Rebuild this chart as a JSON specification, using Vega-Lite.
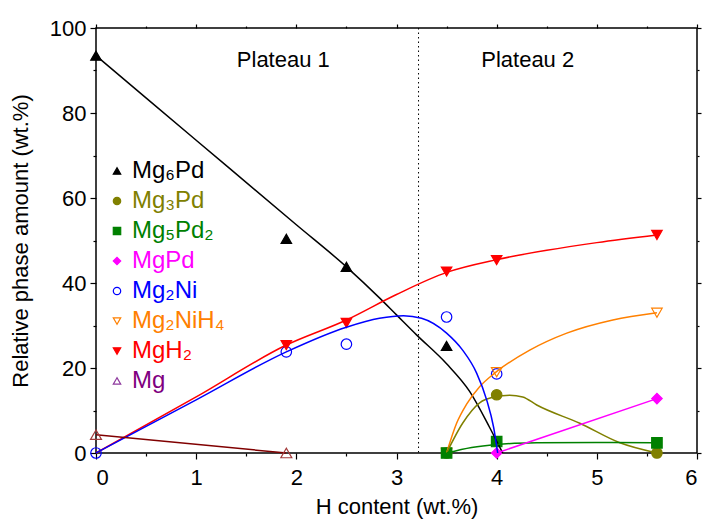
{
  "$schema": "https://vega.github.io/schema/vega-lite/v6.json",
  "width": 601,
  "height": 425,
  "autosize": {"type": "none"},
  "padding": {"left": 96, "top": 28, "right": 7, "bottom": 66},
  "background": "white",
  "config": {
    "view": {"stroke": "black", "strokeWidth": 1.5},
    "font": "Liberation Sans",
    "axis": {"labelFont": "Liberation Sans", "labelFontSize": 22, "titleFont": "Liberation Sans", "titleFontSize": 22, "titleFontWeight": "normal", "domain": false, "grid": false, "tickColor": "black", "labelColor": "black", "titleColor": "black", "tickWidth": 1.2},
    "legend": {"labelFont": "Liberation Sans", "labelFontSize": 24, "rowPadding": 6, "labelOffset": 3, "symbolSize": 55, "symbolStrokeWidth": 1.2, "padding": 0}
  },
  "datasets": {
    "pts": [
      {"s": "Mg₆Pd", "x": 0, "y": 93.5}, {"s": "Mg₆Pd", "x": 1.9, "y": 50.4}, {"s": "Mg₆Pd", "x": 2.5, "y": 43.8}, {"s": "Mg₆Pd", "x": 3.5, "y": 25.2},
      {"s": "Mg₂Ni", "x": 0, "y": 0}, {"s": "Mg₂Ni", "x": 1.9, "y": 23.8}, {"s": "Mg₂Ni", "x": 2.5, "y": 25.6}, {"s": "Mg₂Ni", "x": 3.5, "y": 32}, {"s": "Mg₂Ni", "x": 4, "y": 18.6},
      {"s": "MgH₂", "x": 1.9, "y": 25.4}, {"s": "MgH₂", "x": 2.5, "y": 30.6}, {"s": "MgH₂", "x": 3.5, "y": 42.7}, {"s": "MgH₂", "x": 4, "y": 45.4}, {"s": "MgH₂", "x": 5.6, "y": 51.3},
      {"s": "Mg₂NiH₄", "x": 3.5, "y": 0}, {"s": "Mg₂NiH₄", "x": 4, "y": 19}, {"s": "Mg₂NiH₄", "x": 5.6, "y": 33},
      {"s": "Mg₃Pd", "x": 3.5, "y": 0}, {"s": "Mg₃Pd", "x": 4, "y": 13.7}, {"s": "Mg₃Pd", "x": 5.6, "y": 0},
      {"s": "MgPd", "x": 4, "y": 0}, {"s": "MgPd", "x": 5.6, "y": 12.8},
      {"s": "Mg₅Pd₂", "x": 3.5, "y": 0}, {"s": "Mg₅Pd₂", "x": 4, "y": 2.7}, {"s": "Mg₅Pd₂", "x": 5.6, "y": 2.4}
    ],
    "curves": [
      {"s": "Mg₆Pd", "x": 0, "y": 93.5}, {"s": "Mg₆Pd", "x": 1, "y": 73.6}, {"s": "Mg₆Pd", "x": 2, "y": 53.7}, {"s": "Mg₆Pd", "x": 2.5, "y": 43.8}, {"s": "Mg₆Pd", "x": 2.83, "y": 36.5}, {"s": "Mg₆Pd", "x": 3.0, "y": 32.5}, {"s": "Mg₆Pd", "x": 3.2, "y": 27.8}, {"s": "Mg₆Pd", "x": 3.5, "y": 21}, {"s": "Mg₆Pd", "x": 3.73, "y": 14.5}, {"s": "Mg₆Pd", "x": 3.93, "y": 6}, {"s": "Mg₆Pd", "x": 4.06, "y": 0},
      {"s": "MgH₂", "x": 0, "y": 0}, {"s": "MgH₂", "x": 1, "y": 13.2}, {"s": "MgH₂", "x": 1.9, "y": 25.4}, {"s": "MgH₂", "x": 2.5, "y": 31.3}, {"s": "MgH₂", "x": 3, "y": 37.3}, {"s": "MgH₂", "x": 3.5, "y": 42.5}, {"s": "MgH₂", "x": 4, "y": 45.5}, {"s": "MgH₂", "x": 4.5, "y": 47.7}, {"s": "MgH₂", "x": 5, "y": 49.5}, {"s": "MgH₂", "x": 5.6, "y": 51.3},
      {"s": "Mg₂NiH₄", "x": 3.5, "y": 0}, {"s": "Mg₂NiH₄", "x": 3.6, "y": 7}, {"s": "Mg₂NiH₄", "x": 3.7, "y": 11.5}, {"s": "Mg₂NiH₄", "x": 3.83, "y": 15.6}, {"s": "Mg₂NiH₄", "x": 3.98, "y": 18.8}, {"s": "Mg₂NiH₄", "x": 4.33, "y": 24.2}, {"s": "Mg₂NiH₄", "x": 4.7, "y": 28.2}, {"s": "Mg₂NiH₄", "x": 5.16, "y": 31.3}, {"s": "Mg₂NiH₄", "x": 5.6, "y": 33},
      {"s": "Mg₃Pd", "x": 3.5, "y": 0}, {"s": "Mg₃Pd", "x": 3.66, "y": 7}, {"s": "Mg₃Pd", "x": 3.83, "y": 11.8}, {"s": "Mg₃Pd", "x": 3.98, "y": 13.2}, {"s": "Mg₃Pd", "x": 4.13, "y": 13.6}, {"s": "Mg₃Pd", "x": 4.26, "y": 13.2}, {"s": "Mg₃Pd", "x": 4.4, "y": 11.3}, {"s": "Mg₃Pd", "x": 4.83, "y": 7}, {"s": "Mg₃Pd", "x": 5.23, "y": 2.4}, {"s": "Mg₃Pd", "x": 5.6, "y": 0},
      {"s": "Mg₅Pd₂", "x": 3.5, "y": 0}, {"s": "Mg₅Pd₂", "x": 3.75, "y": 1.3}, {"s": "Mg₅Pd₂", "x": 4, "y": 2}, {"s": "Mg₅Pd₂", "x": 4.4, "y": 2.4}, {"s": "Mg₅Pd₂", "x": 5, "y": 2.5}, {"s": "Mg₅Pd₂", "x": 5.6, "y": 2.4},
      {"s": "MgPd", "x": 4, "y": 0}, {"s": "MgPd", "x": 5.6, "y": 12.8},
      {"s": "Mg₂Ni", "x": 0, "y": 0}, {"s": "Mg₂Ni", "x": 1, "y": 12.5}, {"s": "Mg₂Ni", "x": 1.9, "y": 23.8}, {"s": "Mg₂Ni", "x": 2.5, "y": 29.6}, {"s": "Mg₂Ni", "x": 2.83, "y": 31.7}, {"s": "Mg₂Ni", "x": 3.07, "y": 32.3}, {"s": "Mg₂Ni", "x": 3.25, "y": 31.7}, {"s": "Mg₂Ni", "x": 3.5, "y": 28.2}, {"s": "Mg₂Ni", "x": 3.66, "y": 24.2}, {"s": "Mg₂Ni", "x": 3.8, "y": 18.8}, {"s": "Mg₂Ni", "x": 3.9, "y": 12.5}, {"s": "Mg₂Ni", "x": 3.97, "y": 6}, {"s": "Mg₂Ni", "x": 4.01, "y": 0}
    ],
    "mg": [{"s": "Mg", "x": 0, "y": 4.3}, {"s": "Mg", "x": 1.9, "y": 0}],
    "labels": [{"t": "Plateau 1", "x": 1.87, "y": 92.5}, {"t": "Plateau 2", "x": 4.31, "y": 92.5}],
    "divider": [{"x": 3.22}]
  },
  "resolve": {"axis": {"x": "independent", "y": "independent"}},
  "layer": [
    {
      "data": {"name": "pts"},
      "mark": {"type": "point", "strokeWidth": 1.2, "size": 110, "opacity": 1},
      "encoding": {
        "x": {"field": "x", "type": "quantitative", "scale": {"domain": [0, 6], "nice": false, "zero": false}, "axis": {"orient": "top", "values": [0, 1, 2, 3, 4, 5, 6], "tickSize": 4, "labels": false, "title": null}},
        "y": {"field": "y", "type": "quantitative", "scale": {"domain": [0, 100], "nice": false}, "axis": {"orient": "right", "values": [0, 20, 40, 60, 80, 100], "tickSize": 4, "labels": false, "title": null}},
        "shape": {"field": "s", "type": "nominal", "scale": {"domain": ["Mg₆Pd", "Mg₃Pd", "Mg₅Pd₂", "MgPd", "Mg₂Ni", "Mg₂NiH₄", "MgH₂", "Mg"], "range": ["triangle-up", "circle", "square", "diamond", "circle", "triangle-down", "triangle-down", "triangle-up"]}, "legend": {"title": null, "orient": "none", "legendX": 9, "legendY": 131}},
        "fill": {"field": "s", "type": "nominal", "scale": {"domain": ["Mg₆Pd", "Mg₃Pd", "Mg₅Pd₂", "MgPd", "Mg₂Ni", "Mg₂NiH₄", "MgH₂", "Mg"], "range": ["black", "#808000", "#008000", "#ff00ff", "transparent", "transparent", "#ff0000", "transparent"]}, "legend": {"title": null, "orient": "none", "legendX": 9, "legendY": 131}},
        "stroke": {"field": "s", "type": "nominal", "scale": {"domain": ["Mg₆Pd", "Mg₃Pd", "Mg₅Pd₂", "MgPd", "Mg₂Ni", "Mg₂NiH₄", "MgH₂", "Mg"], "range": ["black", "#808000", "#008000", "#ff00ff", "#0000ff", "#ff8000", "#ff0000", "#8e3a9e"]}, "legend": {"title": null, "orient": "none", "legendX": 9, "legendY": 131, "labelColor": {"expr": "datum.value == 'Mg₃Pd' ? '#808000' : datum.value == 'Mg₅Pd₂' ? '#008000' : datum.value == 'MgPd' ? '#ff00ff' : datum.value == 'Mg₂Ni' ? '#0000ff' : datum.value == 'Mg₂NiH₄' ? '#ff8000' : datum.value == 'MgH₂' ? '#ff0000' : datum.value == 'Mg' ? '#800080' : 'black'"}}}
      }
    },
    {
      "data": {"name": "divider"},
      "mark": {"type": "rule", "strokeDash": [1.5, 3], "color": "black", "strokeWidth": 1},
      "encoding": {"x": {"field": "x", "type": "quantitative", "axis": null}}
    },
    {
      "data": {"name": "curves"},
      "mark": {"type": "line", "interpolate": "monotone", "strokeWidth": 1.5},
      "encoding": {
        "x": {"field": "x", "type": "quantitative", "axis": {"orient": "bottom", "values": [0, 1, 2, 3, 4, 5, 6], "tickSize": 6, "labelPadding": 8, "title": "H content (wt.%)", "titlePadding": 8}},
        "y": {"field": "y", "type": "quantitative", "axis": {"orient": "left", "values": [0, 20, 40, 60, 80, 100], "tickSize": 6, "labelPadding": 4, "title": "Relative phase amount (wt.%)", "titlePadding": 17}},
        "detail": {"field": "s"},
        "color": {"field": "s", "type": "nominal", "legend": null, "scale": {"domain": ["Mg₆Pd", "Mg₃Pd", "Mg₅Pd₂", "MgPd", "Mg₂Ni", "Mg₂NiH₄", "MgH₂", "Mg"], "range": ["black", "#808000", "#008000", "#ff00ff", "#0000ff", "#ff8000", "#ff0000", "#800000"]}}
      }
    },
    {
      "data": {"name": "mg"},
      "layer": [
        {"mark": {"type": "line", "color": "#800000", "strokeWidth": 1.5}, "encoding": {}},
        {"mark": {"type": "point", "shape": "triangle-up", "filled": false, "stroke": "#a33a3a", "strokeWidth": 1.2, "size": 120, "opacity": 1}, "encoding": {}}
      ],
      "encoding": {
        "x": {"field": "x", "type": "quantitative", "axis": {"orient": "bottom", "values": [0.5, 1.5, 2.5, 3.5, 4.5, 5.5], "tickSize": 3, "labels": false, "title": null}},
        "y": {"field": "y", "type": "quantitative", "axis": {"orient": "left", "values": [10, 30, 50, 70, 90], "tickSize": 3, "labels": false, "title": null}}
      }
    },
    {
      "data": {"name": "labels"},
      "mark": {"type": "text", "fontSize": 22, "font": "Liberation Sans", "color": "black", "align": "center", "baseline": "middle"},
      "encoding": {
        "x": {"field": "x", "type": "quantitative", "axis": {"orient": "top", "values": [0.5, 1.5, 2.5, 3.5, 4.5, 5.5], "tickSize": 2, "labels": false, "title": null}},
        "y": {"field": "y", "type": "quantitative", "axis": {"orient": "right", "values": [10, 30, 50, 70, 90], "tickSize": 2, "labels": false, "title": null}},
        "text": {"field": "t"}
      }
    }
  ]
}
